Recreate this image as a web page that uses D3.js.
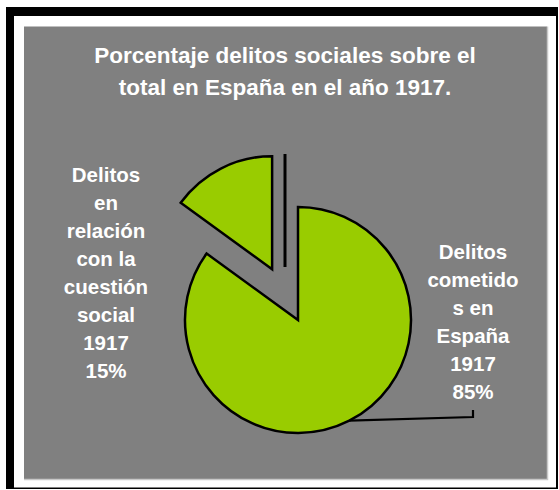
<!DOCTYPE html>
<html>
<head>
<meta charset="utf-8">
<script src="https://cdn.jsdelivr.net/npm/d3@7"></script>
<style>
  html, body { margin: 0; padding: 0; background: #ffffff; }
  svg { display: block; }
  text { font-family: "Liberation Sans", Arial, sans-serif; font-weight: bold; fill: #ffffff; }
</style>
</head>
<body>
<svg id="chart" width="559" height="490"></svg>
<script>
// Crime data, Spain 1917 (share of total offences)
const categories = [
  "Delitos cometidos en España 1917",
  "Delitos en relación con la cuestión social 1917"
];
const values = [85, 15];
// Wrapped label text for each slice (the percentage line is appended from values)
const labelLines = [
  ["Delitos", "cometido", "s en", "España", "1917"],
  ["Delitos", "en", "relación", "con la", "cuestión", "social", "1917"]
];
const titleLines = [
  "Porcentaje delitos sociales sobre el",
  "total en España en el año 1917."
];

const svg = d3.select("#chart");

// Outer frame: black with heavy top/left edges
svg.append("rect").attr("x", 6).attr("y", 7).attr("width", 552).attr("height", 482).attr("fill", "#000");
svg.append("rect").attr("x", 14).attr("y", 16).attr("width", 542).attr("height", 471.5).attr("fill", "#fff");

// Plot area
svg.append("rect").attr("x", 24).attr("y", 26.5).attr("width", 523).attr("height", 452.5)
  .attr("fill", "#808080");
svg.append("path").attr("d", "M547.5,26.5 V479.5 H24")
  .attr("fill", "none").attr("stroke", "#c8c8c8").attr("stroke-width", 1.5);

// Title
svg.append("text")
  .attr("text-anchor", "middle")
  .attr("font-size", 22.5)
  .selectAll("tspan").data(titleLines).join("tspan")
  .attr("x", 285).attr("y", (d, i) => 63 + i * 31.5)
  .text(d => d);

// Pie
const cx = 298, cy = 320, r = 113, explode = 57;
const pie = d3.pie().sort(null).startAngle(0).endAngle(2 * Math.PI);
const arcs = pie(values);
const arcGen = d3.arc().innerRadius(0).outerRadius(r);
const explodeBy = [0, explode];

const g = svg.append("g").attr("transform", `translate(${cx},${cy})`);
g.selectAll("path.slice").data(arcs).join("path")
  .attr("class", "slice")
  .attr("transform", (d, i) => {
    const mid = (d.startAngle + d.endAngle) / 2;
    const e = explodeBy[i];
    return `translate(${Math.sin(mid) * e},${-Math.cos(mid) * e})`;
  })
  .attr("d", arcGen)
  .attr("fill", "#99cc00")
  .attr("stroke", "#000")
  .attr("stroke-width", 2.5)
  .attr("stroke-linejoin", "miter");

// Leader line beside the exploded slice
g.append("line")
  .attr("x1", -13).attr("y1", -166).attr("x2", -13).attr("y2", -53)
  .attr("stroke", "#000").attr("stroke-width", 3);

// Leader line for the large slice label
const la = 153 * Math.PI / 180;
const lp = [Math.sin(la) * r, -Math.cos(la) * r];
g.append("path")
  .attr("d", `M${lp[0]},${lp[1]} L${473 - cx},${417 - cy} L${473 - cx},${410 - cy}`)
  .attr("fill", "none").attr("stroke", "#000").attr("stroke-width", 2.2);

// Slice labels
const labelPos = [{ x: 473, y: 259 }, { x: 106, y: 181.5 }];
const lineH = 28;
labelPos.forEach((p, i) => {
  const lines = labelLines[i].concat([values[i] + "%"]);
  svg.append("text")
    .attr("text-anchor", "middle")
    .attr("font-size", 20.5)
    .selectAll("tspan").data(lines).join("tspan")
    .attr("x", p.x).attr("y", (d, j) => p.y + j * lineH)
    .text(d => d);
});
</script>
</body>
</html>
